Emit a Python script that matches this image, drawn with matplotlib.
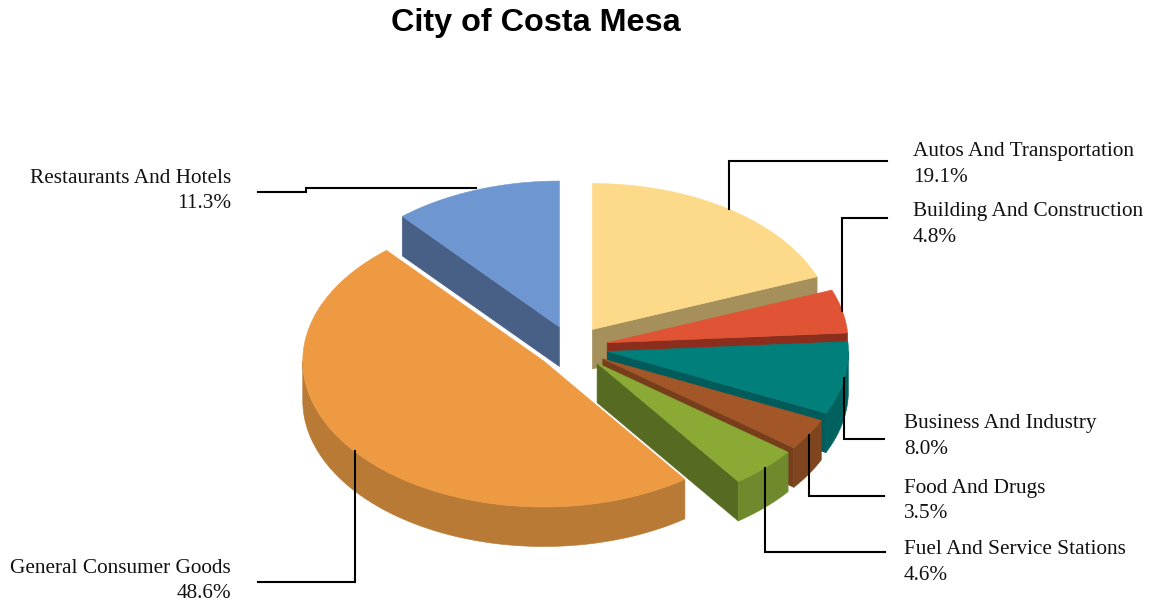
import numpy as np
import matplotlib
matplotlib.use("Agg")
import matplotlib.pyplot as plt

# Sales share by business group, clockwise from twelve o'clock
categories = ["Autos And Transportation", "Building And Construction",
              "Business And Industry", "Food And Drugs",
              "Fuel And Service Stations", "General Consumer Goods",
              "Restaurants And Hotels"]
shares = [19.1, 4.8, 8.0, 3.5, 4.6, 48.6, 11.3]

top_colors = ["#FCDA8A", "#E15335", "#007F7B", "#A35627", "#8AA935", "#EE9A43", "#6E96D1"]
rim_colors = ["#A58F5B", "#8C2E1E", "#00615F", "#7F451F", "#6F8A2C", "#B97A36", "#485F86"]
face_colors = ["#A58F5B", "#8C2E1E", "#005B5A", "#763E1B", "#576A22", "#B97A36", "#485F86"]

# Pie geometry in figure pixels
CX, CY = 572, 347.5
RX, RY = 241, 146
DEPTH = 39.5
EXPLODE = 36

# Label placement: text x, first baseline y, alignment, leader y, leader end x
label_x = [913, 913, 904, 904, 904, 231, 231]
label_y = [156, 216, 428, 493, 554, 573, 183]
label_ha = ["left", "left", "left", "left", "left", "right", "right"]
leader_y = [161, 218, 439, 496, 552, 582, 192]
leader_end = [887, 887, 884, 884, 885, 258, 258]


def rim_point(apex, deg):
    t = np.radians(deg)
    return apex[0] + RX * np.sin(t), apex[1] - RY * np.cos(t)


def arc(apex, a, b):
    t = np.radians(np.linspace(a, b, 120))
    return apex[0] + RX * np.sin(t), apex[1] - RY * np.cos(t)


def draw_slice(ax, apex, a, b, top, rim, face):
    # flat cut side, only when it turns toward the viewer
    for deg, sign in ((a, -1), (b, 1)):
        if sign * np.sin(np.radians(deg)) > 1e-6:
            px, py = rim_point(apex, deg)
            ax.fill([apex[0], px, px, apex[0]],
                    [apex[1], py, py + DEPTH, apex[1] + DEPTH],
                    color=face, lw=0.4, zorder=2)
    # outer wall on the near half of the ellipse
    lo, hi = max(a, 90), min(b, 270)
    if lo < hi:
        x, y = arc(apex, lo, hi)
        ax.fill(np.r_[x, x[::-1]], np.r_[y, y[::-1] + DEPTH],
                color=rim, lw=0.4, zorder=2)
    x, y = arc(apex, a, b)
    ax.fill(np.r_[apex[0], x], np.r_[apex[1], y], color=top, lw=0.4, zorder=2)


fig = plt.figure(figsize=(11.56, 6.04), dpi=100)
ax = fig.add_axes([0, 0, 1, 1])
ax.set_xlim(0, 1156)
ax.set_ylim(604, 0)
ax.axis("off")

edges = np.r_[0, np.cumsum(shares)] / sum(shares) * 360
mids = (edges[:-1] + edges[1:]) / 2

apexes = []
for m in mids:
    t = np.radians(m)
    apexes.append((CX + EXPLODE * np.sin(t), CY - EXPLODE * RY / RX * np.cos(t)))

# back to front
for i in [6, 0, 1, 2, 3, 4, 5]:
    draw_slice(ax, apexes[i], edges[i], edges[i + 1],
               top_colors[i], rim_colors[i], face_colors[i])

for i, name in enumerate(categories):
    sx, sy = rim_point(apexes[i], mids[i])
    if name == "Restaurants And Hotels":
        # this leader runs sideways with a small step
        xs = [sx, 306, 306, leader_end[i]]
        ys = [sy - 2, sy - 2, leader_y[i], leader_y[i]]
    else:
        xs = [sx, sx, leader_end[i]]
        ys = [sy, leader_y[i], leader_y[i]]
    ax.plot(xs, ys, color="black", lw=1.5, solid_joinstyle="miter", zorder=3)

    ax.text(label_x[i], label_y[i], name, family="Liberation Serif", fontsize=15.3,
            ha=label_ha[i], va="baseline", color="#111111")
    ax.text(label_x[i], label_y[i] + 25.5, f"{shares[i]:.1f}%", family="Liberation Serif",
            fontsize=15.3, ha=label_ha[i], va="baseline", color="#111111")

ax.text(536, 31, "City of Costa Mesa", family="Liberation Sans", fontweight="bold",
        fontsize=23.3, ha="center", va="baseline", color="black")

fig.savefig("out.png", dpi=100)
